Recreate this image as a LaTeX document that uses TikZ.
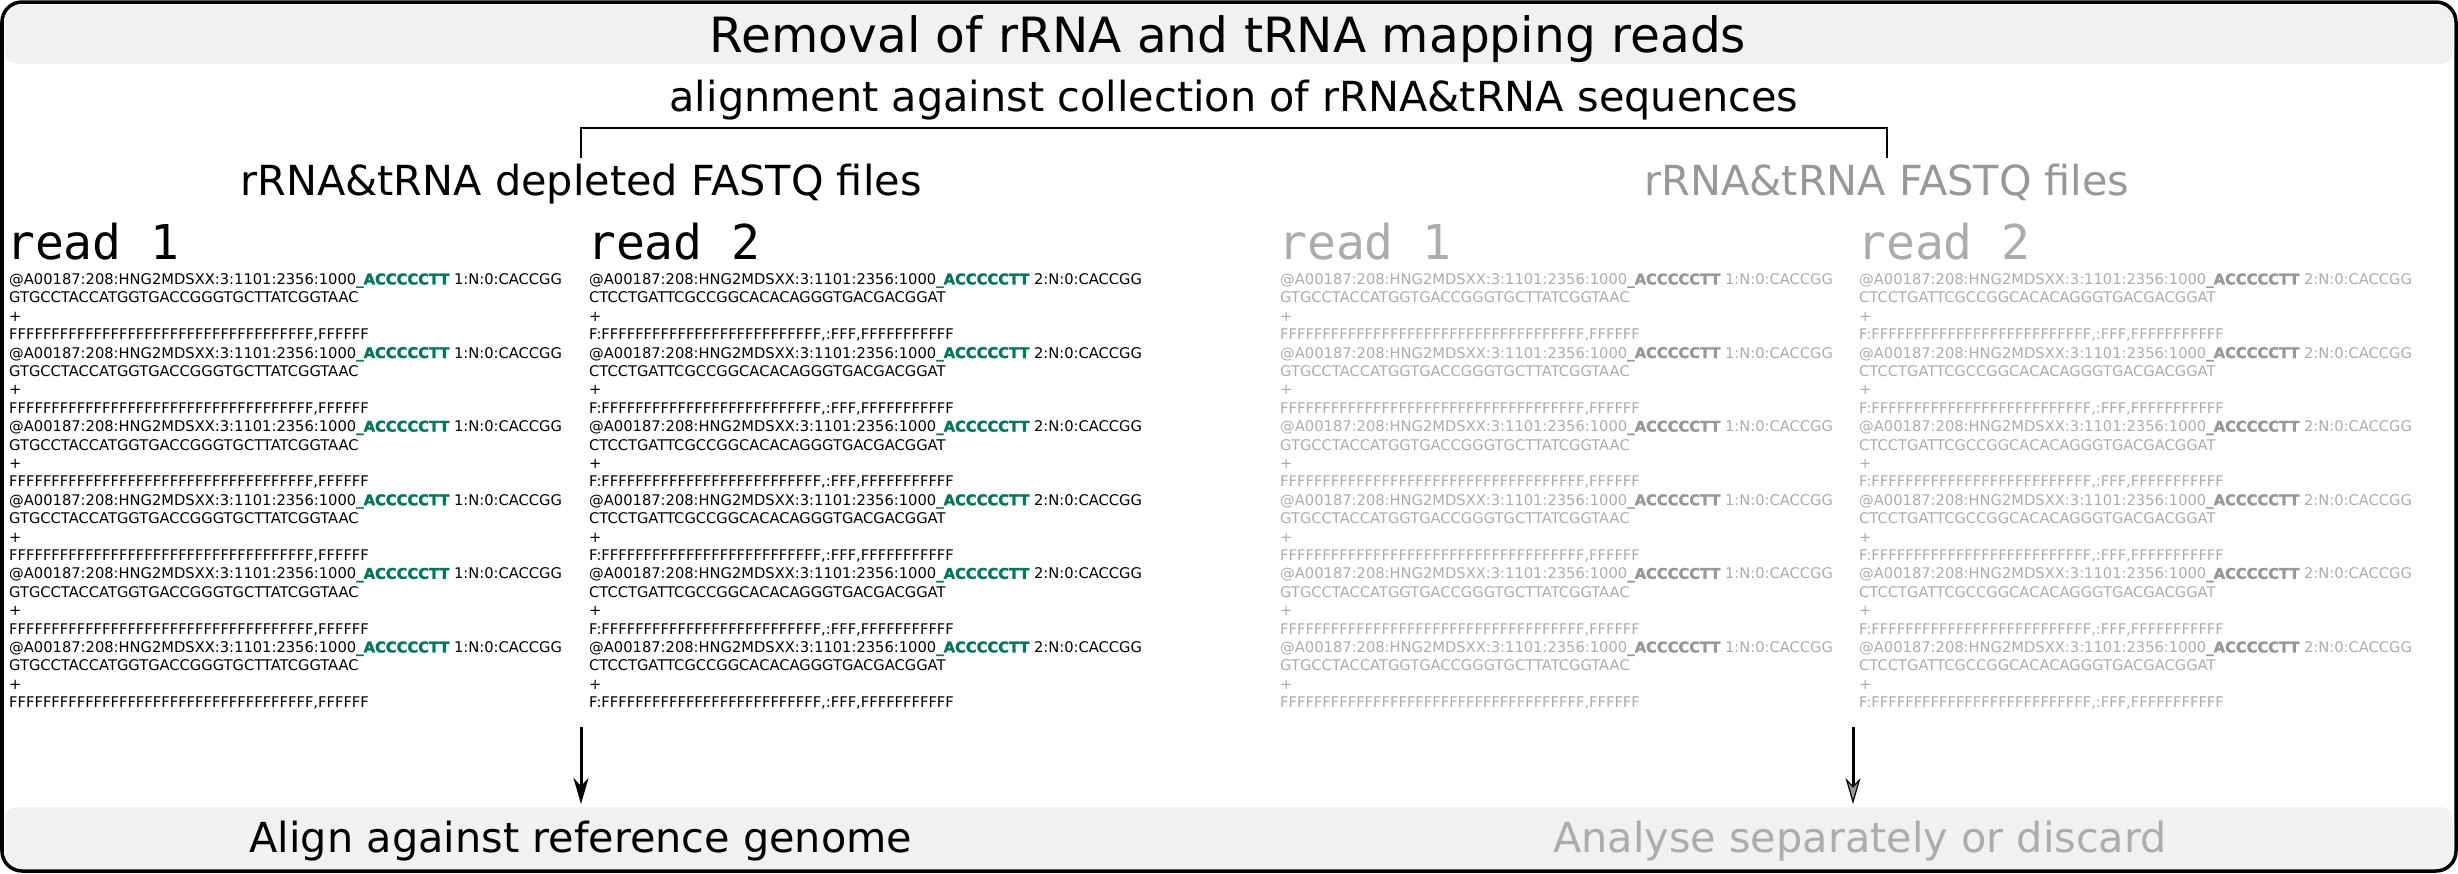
\documentclass[tikz,border=0pt]{standalone}
\usepackage{fontspec}
\setmainfont{DejaVu Sans}
\newfontfamily\readfont{DejaVu Sans Mono}
\newfontfamily\heavyfont[BoldFeatures={FakeBold=1.8}]{DejaVu Sans}
\usetikzlibrary{arrows.meta}
\definecolor{accent}{RGB}{0,120,90}
\definecolor{lightg}{RGB}{172,172,172}
\definecolor{midg}{RGB}{152,152,152}
\definecolor{bandg}{RGB}{241,241,241}
\newcommand{\tenF}{FFFFFFFFFF}
\newcommand{\qualA}{\tenF\tenF\tenF FFFFFF,FFFFFF}
\newcommand{\qualB}{F:\tenF\tenF FFFFFF,:FFF,\tenF F}
\newcommand{\seqA}{GTGCCTACCATGGTGACCGGGTGCTTATCGGTAAC}
\newcommand{\seqB}{CTCCTGATTCGCCGGCACACAGGGTGACGACGGAT}
\newcommand{\hdr}[2]{@A00187:208:HNG2MDSXX:3:1101:2356:1000{\heavyfont\bfseries\color{#2}\_ACCCCCTT} #1:N:0:CACCGG}
\newcommand{\fqrec}[8]{%
  \node[seqtext,text=#7] (#1h) at (#2,#3) {\hdr{#4}{#8}};
  \node[seqtext,text=#7] (#1s) at (#2,#3+18.4) {#5};
  \node[seqtext,text=#7] (#1p) at (#2,#3+36.8) {+};
  \node[seqtext,text=#7] (#1q) at (#2,#3+55.2) {#6};
}
\begin{document}
\begin{tikzpicture}[x=1pt,y=-1pt,
  seqtext/.style={inner sep=0pt, anchor=base west, font=\fontsize{14.7}{18}\selectfont},
  heading/.style={inner sep=0pt, anchor=base, font=\fontsize{41.4}{50}\selectfont},
  titletext/.style={inner sep=0pt, anchor=base, font=\fontsize{48.6}{58}\selectfont},
  readlabel/.style={inner sep=0pt, anchor=base west, font=\fontsize{48}{56}\readfont},
  band/.style={fill=bandg, draw=none, rounded corners=12pt},
  bracketline/.style={line width=2.6pt},
  arrowblack/.style={line width=3pt, -{Stealth[length=26pt,width=15pt,inset=8pt]}},
  arrowgray/.style={line width=3pt, -{Stealth[length=26pt,width=15pt,inset=8pt,fill=midg,line width=1.2pt]}},
]
\useasboundingbox (0,0) rectangle (2458,873);
% bands
\fill[band] (5,5) rectangle (2453,64);
\fill[band] (5,807) rectangle (2453,869);
% outer frame
\draw[line width=3.5pt, rounded corners=20pt] (2,2) rectangle (2456,871);

% headings
\node[titletext] (title) at (1228,52) {Removal of rRNA and tRNA mapping reads};
\node[heading] (align) at (1234,111) {alignment against collection of rRNA\&tRNA sequences};
\node[heading] (depl) at (581,195) {rRNA\&tRNA depleted FASTQ files};
\node[heading, text=midg] (rfq) at (1887,195) {rRNA\&tRNA FASTQ files};

% bracket
\coordinate (bl) at (581,158);
\coordinate (tl) at (581,128);
\coordinate (tr) at (1887,128);
\coordinate (br) at (1887,158);
\draw[bracketline] (bl) -- (tl) -- (tr) -- (br);

% read labels
\node[readlabel] (r1) at (6,259) {read 1};
\node[readlabel] (r2) at (587,259) {read 2};
\node[readlabel, text=lightg] (g1) at (1278,259) {read 1};
\node[readlabel, text=lightg] (g2) at (1857,259) {read 2};

% FASTQ records
\foreach \g in {0,...,5}{
  \pgfmathsetmacro{\yy}{284.4+73.6*\g}
  \fqrec{ka\g}{9}{\yy}{1}{\seqA}{\qualA}{black}{accent}
  \fqrec{kb\g}{589}{\yy}{2}{\seqB}{\qualB}{black}{accent}
  \fqrec{ga\g}{1280}{\yy}{1}{\seqA}{\qualA}{lightg}{midg}
  \fqrec{gb\g}{1859}{\yy}{2}{\seqB}{\qualB}{lightg}{midg}
}

% bottom texts
\node[heading] (genome) at (581,852) {Align against reference genome};
\node[heading, text=lightg] (discard) at (1860,852) {Analyse separately or discard};

% arrows
\coordinate (as) at (581,727);
\coordinate (ae) at (581,804);
\coordinate (bs) at (1853,727);
\coordinate (be) at (1853,804);
\draw[arrowblack] (as) -- (ae);
\draw[arrowgray] (bs) -- (be);
\end{tikzpicture}
\end{document}
